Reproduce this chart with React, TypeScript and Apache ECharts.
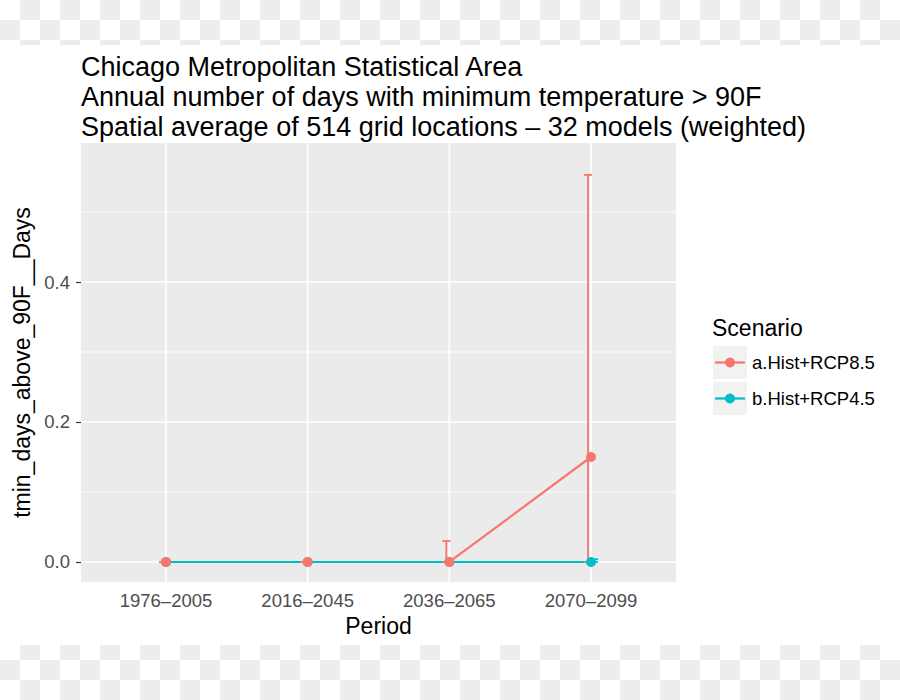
import React, { useEffect, useRef } from "react";
import * as echarts from "echarts";

const periods = ["1976–2005", "2016–2045", "2036–2065", "2070–2099"];
const rcp85Mean = [0, 0, 0, 0.15];
const rcp85Low = [0, 0, 0, 0];
const rcp85High = [0, 0, 0.03, 0.553];
const rcp45Mean = [0, 0, 0, 0];
const rcp45Low = [0, 0, 0, 0];
const rcp45High = [0, 0, 0, 0.004];
const yMajorTicks = [0, 0.2, 0.4];
const yMinorTicks = [0.1, 0.3, 0.5];
const yTickLabels = ["0.0", "0.2", "0.4"];
const titleLines = [
  "Chicago Metropolitan Statistical Area",
  "Annual number of days with minimum temperature > 90F",
  "Spatial average of 514 grid locations – 32 models (weighted)",
];
const seriesNames = ["a.Hist+RCP8.5", "b.Hist+RCP4.5"];
const legendTitle = "Scenario";
const xName = "Period";
const yName = "tmin_days_above_90F__Days";

const FONT = "'Liberation Sans', Arial, Helvetica, sans-serif";
const RED = "#F8766D";
const TEAL = "#00BFC4";

function checker(): any[] {
  const out: any[] = [];
  const rows = [0, 1, 2, 32, 33, 34];
  for (const r of rows) {
    for (let c = 0; c < 45; c++) {
      if ((r + c) % 2 !== 1) continue;
      let y0 = r * 20;
      let y1 = r * 20 + 20;
      if (r < 10) y1 = Math.min(y1, 45);
      else y0 = Math.max(y0, 645);
      if (y1 <= y0) continue;
      out.push({
        type: "rect",
        shape: { x: c * 20, y: y0, width: 20, height: y1 - y0 },
        style: { fill: "#EDEDED" },
        silent: true,
      });
    }
  }
  return out;
}

function legendGraphics(): any[] {
  const out: any[] = [
    {
      type: "text",
      x: 712,
      y: 328,
      style: { text: legendTitle, fontSize: 23, fontFamily: FONT, fill: "#000", verticalAlign: "middle" },
    },
  ];
  const cols = [RED, TEAL];
  seriesNames.forEach((n, i) => {
    const top = 346 + i * 36;
    const cy = top + 16.5;
    out.push({ type: "rect", shape: { x: 713, y: top, width: 34, height: 33 }, style: { fill: "#F2F2F2" } });
    out.push({ type: "line", shape: { x1: 715, y1: cy, x2: 745, y2: cy }, style: { stroke: cols[i], lineWidth: 2.2 } });
    out.push({ type: "circle", shape: { cx: 730, cy, r: 5 }, style: { fill: cols[i] } });
    out.push({
      type: "text",
      x: 752,
      y: cy,
      style: { text: n, fontSize: 18.5, fontFamily: FONT, fill: "#000", verticalAlign: "middle" },
    });
  });
  return out;
}

export default function App() {
  const ref = useRef<HTMLDivElement>(null);
  useEffect(() => {
    document.body.style.margin = "0";
    const chart = echarts.init(ref.current!, null, { renderer: "svg" });

    const gridData: number[][] = [
      ...yMajorTicks.map((v) => [0, v, 1.7]),
      ...yMinorTicks.map((v) => [0, v, 0.8]),
      ...periods.map((_, i) => [1, i + 1, 1.7]),
    ];

    const errSeries = (name: string, low: number[], high: number[], color: string, dx: number, z: number) => ({
      type: "custom",
      name,
      z,
      silent: true,
      data: periods.map((_, i) => [i + 1, low[i], high[i]]),
      renderItem: (params: any, api: any) => {
        const x = api.value(0);
        const p1 = api.coord([x, api.value(1)]);
        const p2 = api.coord([x, api.value(2)]);
        const cx = p1[0] + dx;
        const st = { stroke: color, lineWidth: 1.8 };
        return {
          type: "group",
          children: [
            { type: "line", shape: { x1: cx, y1: p1[1], x2: cx, y2: p2[1] }, style: st },
            { type: "line", shape: { x1: cx - 4, y1: p1[1], x2: cx + 4, y2: p1[1] }, style: st },
            { type: "line", shape: { x1: cx - 4, y1: p2[1], x2: cx + 4, y2: p2[1] }, style: st },
          ],
        };
      },
    });

    chart.setOption({
      animation: false,
      backgroundColor: "#FFFFFF",
      title: {
        text: titleLines.join("\n"),
        left: 81,
        top: 52,
        padding: 0,
        textStyle: { fontSize: 27, fontWeight: "normal", fontFamily: FONT, color: "#000", lineHeight: 30 },
      },
      grid: {
        left: 81,
        right: 224,
        top: 143,
        bottom: 118,
        show: true,
        backgroundColor: "#EBEBEB",
        borderWidth: 0,
      },
      xAxis: {
        type: "value",
        min: 0.4,
        max: 4.6,
        axisLine: { show: false },
        splitLine: { show: false },
        axisTick: { show: true, customValues: [1, 2, 3, 4], length: 5, lineStyle: { color: "#333", width: 1.2 } },
        axisLabel: {
          customValues: [1, 2, 3, 4],
          formatter: (v: number) => periods[Math.round(v) - 1] ?? "",
          color: "#4D4D4D",
          fontSize: 18.5,
          fontFamily: FONT,
          margin: 9,
        },
        name: xName,
        nameLocation: "middle",
        nameGap: 32,
        nameTextStyle: { fontSize: 23, fontFamily: FONT, color: "#000", verticalAlign: "top" },
      },
      yAxis: {
        type: "value",
        min: -0.0286,
        max: 0.5986,
        axisLine: { show: false },
        splitLine: { show: false },
        axisTick: { show: true, customValues: yMajorTicks, length: 5, lineStyle: { color: "#333", width: 1.2 } },
        axisLabel: {
          customValues: yMajorTicks,
          formatter: (v: number) => {
            const idx = yMajorTicks.findIndex((t) => Math.abs(t - v) < 1e-9);
            return idx >= 0 ? yTickLabels[idx] : "";
          },
          color: "#4D4D4D",
          fontSize: 18.5,
          fontFamily: FONT,
          margin: 11,
        },
        name: yName,
        nameLocation: "middle",
        nameGap: 45,
        nameTextStyle: { fontSize: 23, fontFamily: FONT, color: "#000" },
      },
      graphic: { elements: [...checker(), ...legendGraphics()] },
      series: [
        {
          type: "custom",
          name: "gridlines",
          z: 1,
          silent: true,
          data: gridData,
          renderItem: (params: any, api: any) => {
            const cs = params.coordSys;
            const kind = api.value(0);
            const v = api.value(1);
            const w = api.value(2);
            if (kind === 0) {
              const y = api.coord([1, v])[1];
              return { type: "line", shape: { x1: cs.x, y1: y, x2: cs.x + cs.width, y2: y }, style: { stroke: "#FFFFFF", lineWidth: w } };
            }
            const x = api.coord([v, 0])[0];
            return { type: "line", shape: { x1: x, y1: cs.y, x2: x, y2: cs.y + cs.height }, style: { stroke: "#FFFFFF", lineWidth: w } };
          },
        },
        {
          type: "line",
          name: seriesNames[0],
          z: 2,
          data: periods.map((_, i) => [i + 1, rcp85Mean[i]]),
          showSymbol: false,
          lineStyle: { color: RED, width: 2.2 },
          itemStyle: { color: RED },
        },
        {
          type: "line",
          name: seriesNames[1],
          z: 3,
          data: periods.map((_, i) => [i + 1, rcp45Mean[i]]),
          showSymbol: false,
          lineStyle: { color: TEAL, width: 2.2 },
          itemStyle: { color: TEAL },
        },
        errSeries(seriesNames[0] + " err", rcp85Low, rcp85High, RED, -3, 4),
        errSeries(seriesNames[1] + " err", rcp45Low, rcp45High, TEAL, 3, 4),
        {
          type: "scatter",
          name: seriesNames[1] + " pts",
          z: 5,
          data: periods.map((_, i) => [i + 1, rcp45Mean[i]]),
          symbolSize: 10,
          itemStyle: { color: TEAL, opacity: 1 },
        },
        {
          type: "scatter",
          name: seriesNames[0] + " pts",
          z: 6,
          data: periods.map((_, i) => [i + 1, rcp85Mean[i]]),
          symbolSize: 10,
          itemStyle: { color: RED, opacity: 1 },
        },
      ],
    });
    return () => chart.dispose();
  }, []);
  return <div ref={ref} style={{ width: 900, height: 700 }} />;
}
